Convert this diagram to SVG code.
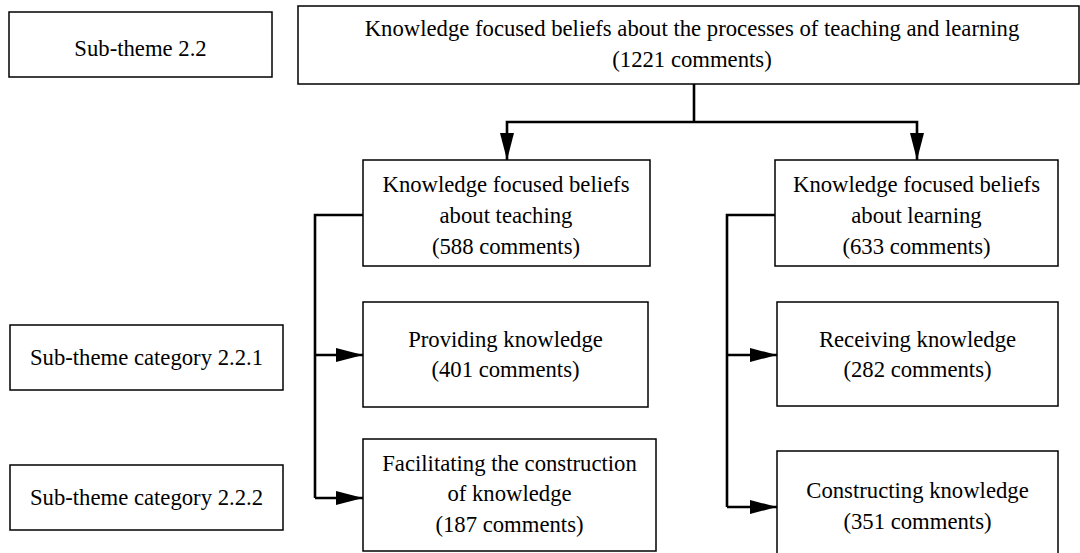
<svg xmlns="http://www.w3.org/2000/svg" width="1080" height="553" viewBox="0 0 1080 553">
  <style>
    .box { fill: #ffffff; stroke: #000000; stroke-width: 1.5; }
    .lbl { font-family: "Liberation Serif", "Times New Roman", serif; font-size: 22.7px; fill: #000000; text-anchor: middle; }
    .wire { fill: none; stroke: #000000; stroke-width: 2.6; }
  </style>
  <defs>
    <marker id="arrow" markerUnits="userSpaceOnUse" markerWidth="28" markerHeight="14" refX="27" refY="7" orient="auto">
      <path d="M0,0 L27,7 L0,14 Z" fill="#000000"/>
    </marker>
  </defs>
  <rect width="1080" height="553" fill="#ffffff"/>

  <g id="subtheme-2-2">
    <rect class="box" x="9" y="12" width="263" height="65"/>
    <text class="lbl" x="140.5" y="56">Sub-theme 2.2</text>
  </g>

  <g id="root">
    <rect class="box" x="298" y="6" width="781" height="78"/>
    <text class="lbl" x="692" y="36">Knowledge focused beliefs about the processes of teaching and learning</text>
    <text class="lbl" x="692" y="67">(1221 comments)</text>
  </g>

  <g id="teaching">
    <rect class="box" x="363" y="160" width="287" height="106"/>
    <text class="lbl" x="506" y="192">Knowledge focused beliefs</text>
    <text class="lbl" x="506" y="223">about teaching</text>
    <text class="lbl" x="506" y="254">(588 comments)</text>
  </g>

  <g id="learning">
    <rect class="box" x="775" y="160" width="283" height="106"/>
    <text class="lbl" x="916.5" y="192">Knowledge focused beliefs</text>
    <text class="lbl" x="916.5" y="223">about learning</text>
    <text class="lbl" x="916.5" y="254">(633 comments)</text>
  </g>

  <g id="providing">
    <rect class="box" x="363" y="302" width="285" height="105"/>
    <text class="lbl" x="505.5" y="347">Providing knowledge</text>
    <text class="lbl" x="505.5" y="377">(401 comments)</text>
  </g>

  <g id="receiving">
    <rect class="box" x="777" y="302" width="281" height="104"/>
    <text class="lbl" x="917.5" y="347">Receiving knowledge</text>
    <text class="lbl" x="917.5" y="377">(282 comments)</text>
  </g>

  <g id="category-2-2-1">
    <rect class="box" x="10" y="325" width="273" height="65"/>
    <text class="lbl" x="146.5" y="365">Sub-theme category 2.2.1</text>
  </g>

  <g id="facilitating">
    <rect class="box" x="363" y="439" width="293" height="112"/>
    <text class="lbl" x="509.5" y="471">Facilitating the construction</text>
    <text class="lbl" x="509.5" y="501">of knowledge</text>
    <text class="lbl" x="509.5" y="532">(187 comments)</text>
  </g>

  <g id="constructing">
    <rect class="box" x="777" y="451" width="281" height="104"/>
    <text class="lbl" x="917.5" y="498">Constructing knowledge</text>
    <text class="lbl" x="917.5" y="529">(351 comments)</text>
  </g>

  <g id="category-2-2-2">
    <rect class="box" x="10" y="465" width="273" height="65"/>
    <text class="lbl" x="146.5" y="505">Sub-theme category 2.2.2</text>
  </g>

  <g id="connectors">
    <path class="wire" d="M694,84 V122"/>
    <path class="wire" d="M694,122 H507 V160" marker-end="url(#arrow)"/>
    <path class="wire" d="M694,122 H917 V160" marker-end="url(#arrow)"/>
    <path class="wire" d="M363,215 H315 V498"/>
    <path class="wire" d="M315,355 H363" marker-end="url(#arrow)"/>
    <path class="wire" d="M315,498 H363" marker-end="url(#arrow)"/>
    <path class="wire" d="M775,215 H727 V507"/>
    <path class="wire" d="M727,355 H777" marker-end="url(#arrow)"/>
    <path class="wire" d="M727,507 H777" marker-end="url(#arrow)"/>
  </g>
</svg>
